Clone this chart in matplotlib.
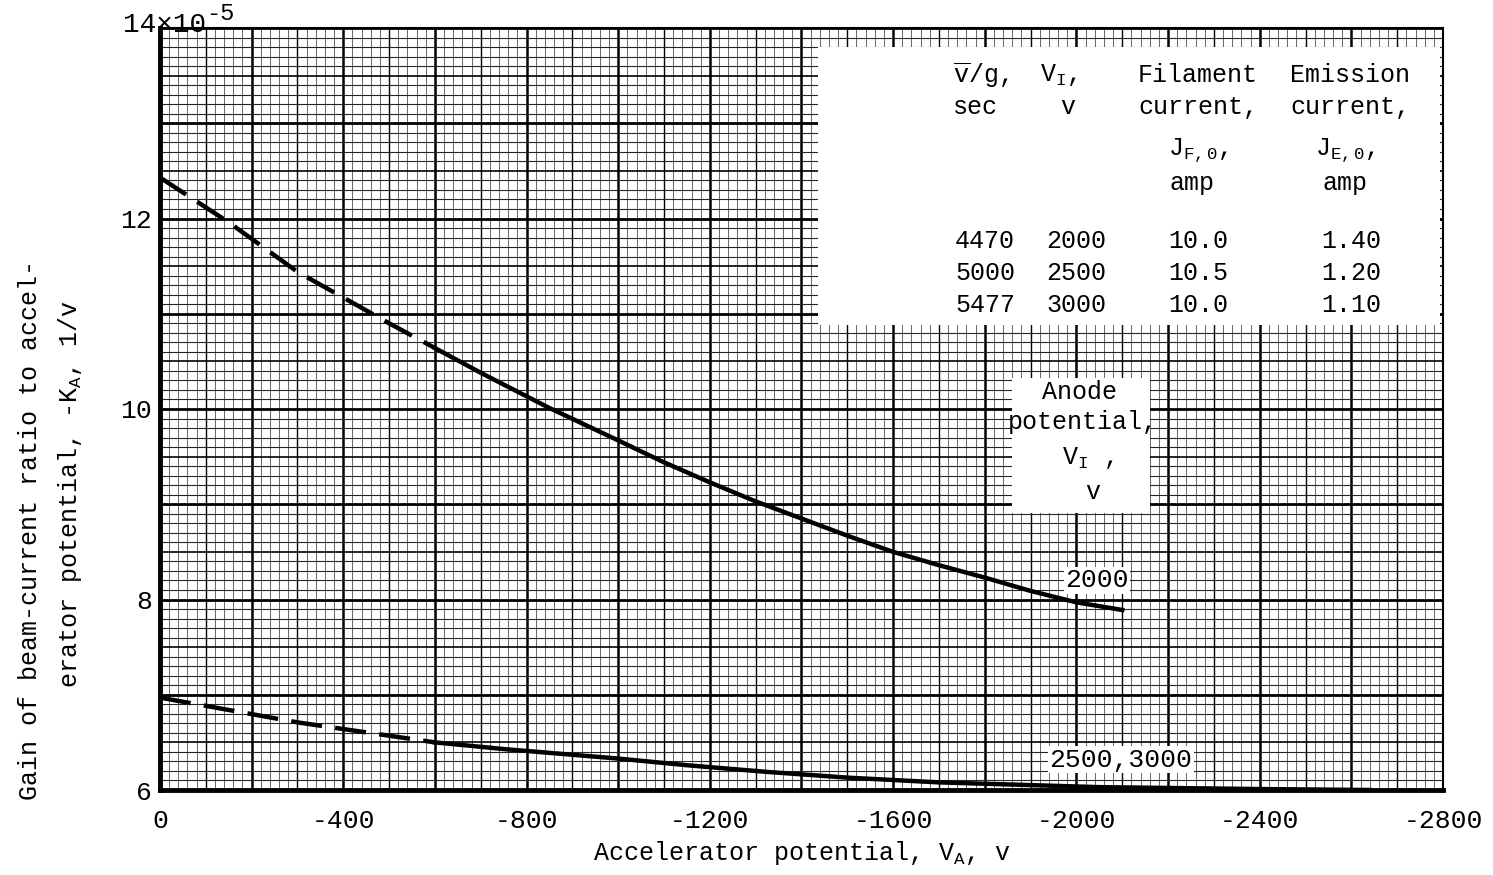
import numpy as np
import matplotlib
matplotlib.use('Agg')
import matplotlib.pyplot as plt
from matplotlib.patches import Rectangle

plt.rcParams['font.family'] = ['Liberation Mono', 'DejaVu Sans Mono']
plt.rcParams['mathtext.fontset'] = 'custom'
plt.rcParams['mathtext.rm'] = 'Liberation Mono'
plt.rcParams['mathtext.it'] = 'Liberation Mono'
plt.rcParams['axes.unicode_minus'] = False

# Anode potential 2000 v curve (dashed part is the extrapolation)
upper_va = [0, -150, -300, -500, -600, -700, -850, -1000, -1100, -1200, -1300,
            -1400, -1500, -1600, -1700, -1800, -1900, -2000, -2100]
upper_ka = [12.43, 11.96, 11.44, 10.90, 10.64, 10.38, 10.01, 9.67, 9.44, 9.23, 9.03,
            8.85, 8.67, 8.50, 8.36, 8.23, 8.09, 7.97, 7.89]

# Anode potential 2500, 3000 v curve
lower_va = [0, -150, -300, -400, -600, -750, -1000, -1150, -1325, -1500, -1700,
            -2050, -2400, -2640]
lower_ka = [6.97, 6.84, 6.71, 6.64, 6.50, 6.43, 6.33, 6.26, 6.19, 6.13, 6.08,
            6.03, 6.01, 6.00]
dash_limit = -600

# table
col_speed = ['4470', '5000', '5477']
col_anode = ['2000', '2500', '3000']
col_filament = ['10.0', '10.5', '10.0']
col_emission = ['1.40', '1.20', '1.10']

x_ticks = [0, -400, -800, -1200, -1600, -2000, -2400, -2800]
y_ticks = [6, 8, 10, 12]

W, H = 1493, 875
fig = plt.figure(figsize=(W / 100, H / 100), dpi=100)
ax = fig.add_axes([160 / W, 85 / H, 1283 / W, 762 / H])


def fx(px):
    return px / W


def fy(py):
    return 1 - py / H


# graph paper grid
for v in np.arange(0, -2801, -20):
    if v % 200 == 0:
        ax.axvline(v, color='black', lw=1.8, zorder=0)
    elif v % 100 == 0:
        ax.axvline(v, color='black', lw=1.0, zorder=0)
    else:
        ax.axvline(v, color='0.3', lw=0.6, zorder=0)
for k in range(0, 81):
    yv = 6 + k / 10
    if k % 10 == 0:
        ax.axhline(yv, color='black', lw=2.0, zorder=0)
    elif k % 5 == 0:
        ax.axhline(yv, color='black', lw=1.2, zorder=0)
    else:
        ax.axhline(yv, color='0.15', lw=0.8, zorder=0)

# curves
for va, ka in [(upper_va, upper_ka), (lower_va, lower_ka)]:
    va = np.array(va)
    ka = np.array(ka)
    d = va >= dash_limit
    s = va <= dash_limit
    ax.plot(va[d], ka[d], color='black', lw=3.2, dashes=(7, 3), zorder=3)
    ax.plot(va[s], ka[s], color='black', lw=3.2, zorder=3, solid_joinstyle='round')

ax.set_xlim(0, -2800)
ax.set_ylim(6, 14)
ax.set_xticks(x_ticks)
ax.set_xticklabels([str(t) for t in x_ticks], fontsize=19)
ax.set_yticks(y_ticks)
ax.set_yticklabels([str(t) for t in y_ticks], fontsize=19)
ax.tick_params(axis='x', length=0, pad=14)
ax.tick_params(axis='y', length=0, pad=6)
for side in ['left', 'bottom']:
    ax.spines[side].set_linewidth(3.5)
for side in ['top', 'right']:
    ax.spines[side].set_linewidth(1.5)

fig.text(fx(123), fy(32), '14×10', fontsize=20, ha='left', va='baseline')
fig.text(fx(206), fy(20), '-5', fontsize=17, ha='left', va='baseline')

ax.set_xlabel('Accelerator potential, $\\mathrm{V_A}$, v', fontsize=18, labelpad=4)
fig.text(fx(30), fy(530), 'Gain of beam-current ratio to accel-', fontsize=18,
         rotation=90, ha='center', va='center')
fig.text(fx(70), fy(494), 'erator potential, -$\\mathrm{K_A}$, 1/v', fontsize=18,
         rotation=90, ha='center', va='center')

# table box
fig.patches.append(Rectangle((fx(818), fy(325)), (1440 - 818) / W, (325 - 47) / H,
                             transform=fig.transFigure, facecolor='white',
                             edgecolor='none', zorder=5))
fs = 18
tx = dict(fontsize=fs, va='center', zorder=6)
fig.text(fx(953), fy(75), '$\\overline{\\mathrm{v}}$/g,', ha='left', **tx)
fig.text(fx(953), fy(107), 'sec', ha='left', **tx)
fig.text(fx(1058), fy(75), '$\\mathrm{V_I}$,', ha='center', **tx)
fig.text(fx(1068), fy(107), 'v', ha='center', **tx)
fig.text(fx(1198), fy(75), 'Filament', ha='center', **tx)
fig.text(fx(1198), fy(107), 'current,', ha='center', **tx)
fig.text(fx(1198), fy(150), '$\\mathrm{J_{F,0}}$,', ha='center', **tx)
fig.text(fx(1192), fy(183), 'amp', ha='center', **tx)
fig.text(fx(1350), fy(75), 'Emission', ha='center', **tx)
fig.text(fx(1350), fy(107), 'current,', ha='center', **tx)
fig.text(fx(1345), fy(150), '$\\mathrm{J_{E,0}}$,', ha='center', **tx)
fig.text(fx(1345), fy(183), 'amp', ha='center', **tx)
for i, py in enumerate([241, 273, 305]):
    fig.text(fx(985), fy(py), col_speed[i], ha='center', **tx)
    fig.text(fx(1076), fy(py), col_anode[i], ha='center', **tx)
    fig.text(fx(1198), fy(py), col_filament[i], ha='center', **tx)
    fig.text(fx(1351), fy(py), col_emission[i], ha='center', **tx)

# anode potential box
fig.patches.append(Rectangle((fx(1012), fy(513)), (1150 - 1012) / W, (513 - 378) / H,
                             transform=fig.transFigure, facecolor='white',
                             edgecolor='none', zorder=5))
fig.text(fx(1080), fy(392), 'Anode', ha='center', **tx)
fig.text(fx(1083), fy(422), 'potential,', ha='center', **tx)
fig.text(fx(1088), fy(458), '$\\mathrm{V_I}$ ,', ha='center', **tx)
fig.text(fx(1093), fy(492), 'v', ha='center', **tx)

# curve labels
ax.text(-2045, 8.2, col_anode[0], fontsize=19, ha='center', va='center', zorder=6,
        bbox=dict(facecolor='white', edgecolor='none', pad=1))
ax.text(-2097, 6.32, col_anode[1] + ',' + col_anode[2], fontsize=19, ha='center',
        va='center', zorder=6, bbox=dict(facecolor='white', edgecolor='none', pad=1))

fig.savefig('out.png', dpi=100)
